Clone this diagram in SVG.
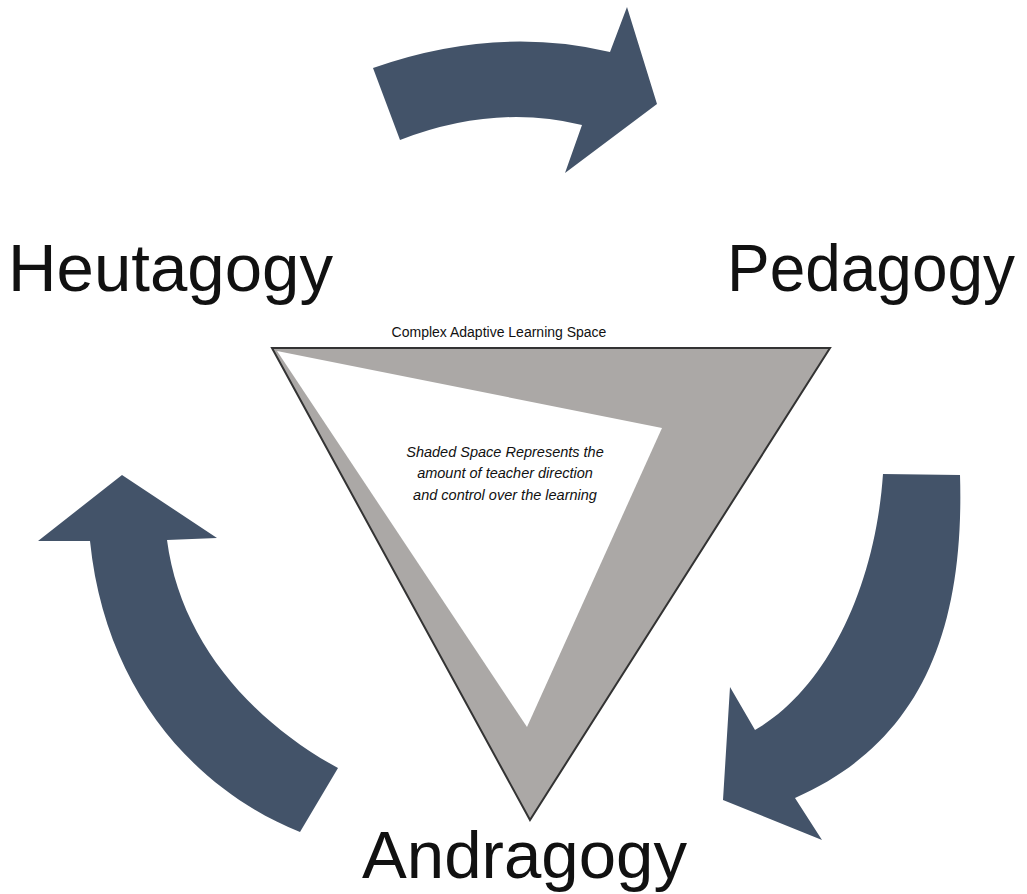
<svg xmlns="http://www.w3.org/2000/svg" width="1027" height="894" viewBox="0 0 1027 894">
<style>
.arrow{fill:#435369;}
.big{font-family:"Liberation Sans",Arial,sans-serif;font-size:66px;fill:#111;}
.small{font-family:"Liberation Sans",Arial,sans-serif;font-size:14px;fill:#111;}
.note{font-family:"Liberation Sans",Arial,sans-serif;font-size:14.5px;font-style:italic;fill:#111;}
</style>
<rect width="1027" height="894" fill="#ffffff"/>
<g id="connectors">
<path class="arrow" d="M373,68 Q495,25 610,52 L627,7 L657,104 L565,173 L582,125 Q495,103.5 400,140 Z"/>
<path class="arrow" d="M883,474 L960,475 C965,640 915,745 795,798 L822,840 L723,800 L730,687 L755,730 C825,690 875,590 883,474 Z"/>
<path class="arrow" d="M122,475 L217,538 L167,540 C180,640 250,720 338,768 L300,832 C195,790 105,690 90,541 L38,541 Z"/>
</g>
<g id="learning-space">
<polygon points="272,348 830,348 530,820" fill="#aba8a6" stroke="#333" stroke-width="2" stroke-linejoin="miter"/>
<polygon points="277,351 662,428 527,727" fill="#ffffff"/>
<text class="small" x="499" y="337" text-anchor="middle">Complex Adaptive Learning Space</text>
<text class="note" x="505" y="457" text-anchor="middle">Shaded Space Represents the</text>
<text class="note" x="505" y="478" text-anchor="middle">amount of teacher direction</text>
<text class="note" x="505" y="500" text-anchor="middle">and control over the learning</text>
</g>
<g id="heutagogy"><text class="big" x="8" y="291" textLength="325" lengthAdjust="spacingAndGlyphs">Heutagogy</text></g>
<g id="pedagogy"><text class="big" x="727" y="291" textLength="288" lengthAdjust="spacingAndGlyphs">Pedagogy</text></g>
<g id="andragogy"><text class="big" x="362" y="878" textLength="325" lengthAdjust="spacingAndGlyphs">Andragogy</text></g>
</svg>
